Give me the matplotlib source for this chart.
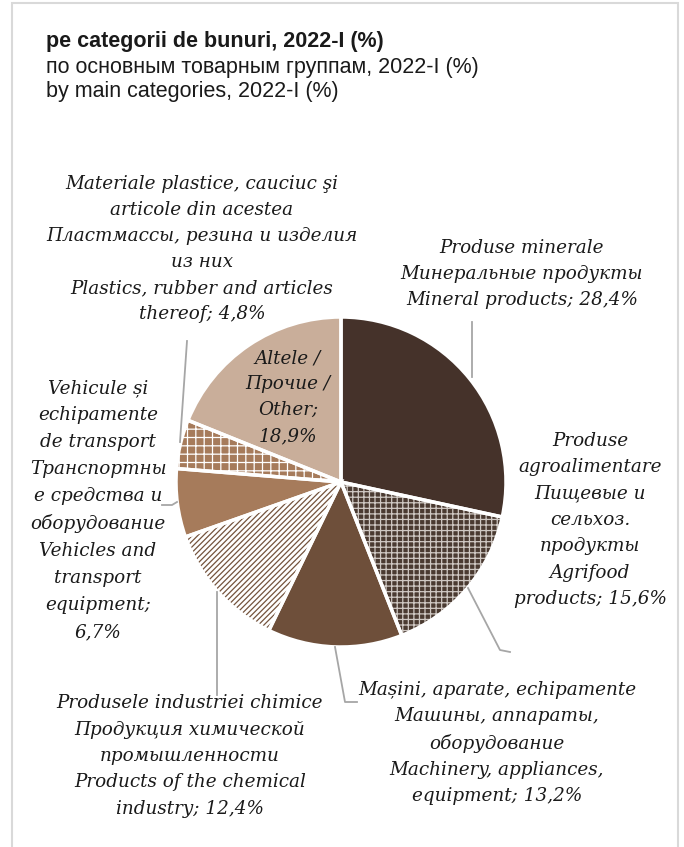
import matplotlib
matplotlib.use('Agg')
import matplotlib.pyplot as plt
from matplotlib.lines import Line2D
from matplotlib.patches import Rectangle

# Dati: esportazioni pe categorii de bunuri, 2022-I (%)
categorii = [
    "Produse minerale\nМинеральные продукты\nMineral products",
    "Produse\nagroalimentare\nПищевые и\nсельхоз.\nпродукты\nAgrifood\nproducts",
    "Mașini, aparate, echipamente\nМашины, аппараты,\nоборудование\nMachinery, appliances,\nequipment",
    "Produsele industriei chimice\nПродукция химической\nпромышленности\nProducts of the chemical\nindustry",
    "Vehicule și\nechipamente\nde transport\nТранспортны\nе средства и\nоборудование\nVehicles and\ntransport\nequipment",
    "Materiale plastice, cauciuc şi\narticole din acestea\nПластмассы, резина и изделия\nиз них\nPlastics, rubber and articles\nthereof",
    "Altele /\nПрочие /\nOther",
]
valori = [28.4, 15.6, 13.2, 12.4, 6.7, 4.8, 18.9]
titolo = ["pe categorii de bunuri, 2022-I (%)",
          "по основным товарным группам, 2022-I (%)",
          "by main categories, 2022-I (%)"]

colori = ['#45322A', '#4A3A31', '#6E4F3A', '#FFFFFF', '#A67B5B', '#A67B5B', '#C9AE9A']
hatch_col = ['#45322A', '#CFC8C3', '#6E4F3A', '#74533D', '#A67B5B', '#FFFFFF', '#C9AE9A']
hatches = [None, '+++', None, '//////', None, '++', None]

W, H = 684, 847


def px(x, y):
    """Pixel -> coordinate figura."""
    return x / W, 1 - y / H


fig = plt.figure(figsize=(W / 100, H / 100), dpi=100)
fig.patch.set_facecolor('white')

# cornice grigia
fig.add_artist(Rectangle(px(12, 900), (678 - 12) / W, (900 - 3) / H,
                         transform=fig.transFigure, fill=False,
                         edgecolor='#D9D9D9', linewidth=1.5))

# titolo
font_tit = ['Liberation Sans', 'DejaVu Sans']
for i, (riga, yy) in enumerate(zip(titolo, [42, 67, 92])):
    fig.text(*px(46, yy), riga, ha='left', va='center', fontsize=15.5,
             family=font_tit, fontweight='bold' if i == 0 else 'normal',
             color='#1a1a1a')

# torta
cx, cy, r = 341, 482, 165
ax = fig.add_axes([(cx - r) / W, (H - cy - r) / H, 2 * r / W, 2 * r / H])
plt.rcParams['hatch.linewidth'] = 0.9
wedges, _ = ax.pie(valori, startangle=90, counterclock=False, radius=1)
for w, fc, hc, h in zip(wedges, colori, hatch_col, hatches):
    w.set_facecolor(fc)
    w.set_edgecolor(hc)
    w.set_linewidth(0)
    if h:
        w.set_hatch(h)
# bordi bianchi sopra
ax.pie(valori, startangle=90, counterclock=False, radius=1,
       colors=['none'] * len(valori),
       wedgeprops=dict(edgecolor='white', linewidth=2.5))
ax.set_xlim(-1, 1)
ax.set_ylim(-1, 1)
ax.axis('off')

# linee guida
guide = [
    [(472, 377), (472, 322)],
    [(468, 588), (500, 650), (510, 652)],
    [(335, 647), (345, 702), (357, 702)],
    [(217, 592), (217, 695)],
    [(177, 502), (172, 505), (162, 505)],
    [(180, 442), (187, 341)],
]
for pts in guide:
    xs = [px(*p)[0] for p in pts]
    ys = [px(*p)[1] for p in pts]
    fig.add_artist(Line2D(xs, ys, transform=fig.transFigure,
                          color='#A6A6A6', linewidth=1.3))

# etichette
font_lab = ['DejaVu Serif']
pos = [(522, 274), (590, 520), (497, 743), (190, 756), (98, 510), (202, 249), (288, 397)]
spaz = [1.57, 1.6, 1.58, 1.6, 1.64, 1.57, 1.57]
for nome, v, (x, y), ls in zip(categorii, valori, pos, spaz):
    perc = f"{v:.1f}%".replace('.', ',')
    if nome.startswith(('Altele', 'Vehicule')):
        s = nome + ';\n' + perc
    else:
        s = nome + '; ' + perc
    fig.text(*px(x, y), s, ha='center', va='center', fontsize=13.2,
             family=font_lab, style='italic', color='#1a1a1a',
             linespacing=ls, multialignment='center')

fig.savefig('out.png', dpi=100, facecolor='white')
